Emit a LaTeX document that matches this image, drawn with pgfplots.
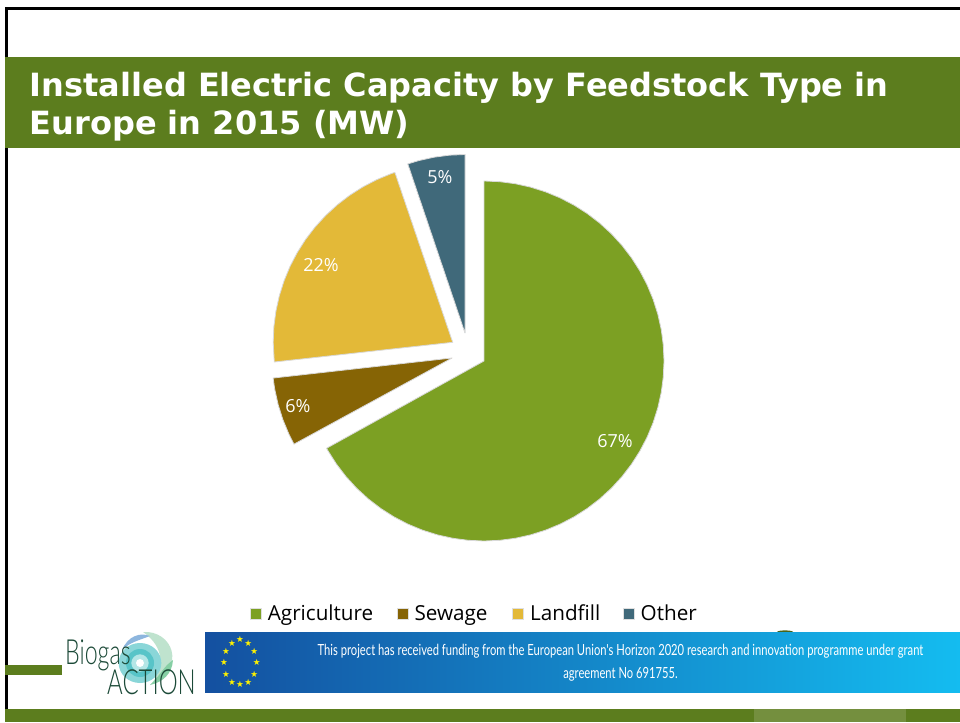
\documentclass[border=0pt]{standalone}
\usepackage{fontspec}
\usepackage{pgfplots}
\pgfplotsset{compat=1.18}
\usetikzlibrary{plotmarks}
\setmainfont{Open Sans}
\newfontfamily\titlefont{DejaVu Sans}
\newfontfamily\logofont{Lato Light}
\newfontfamily\bannerfont{Lato}
\definecolor{bandgreen}{HTML}{5C7D1E}
\definecolor{bandlight}{HTML}{748F3E}
\definecolor{agri}{HTML}{7CA023}
\definecolor{sewage}{HTML}{866405}
\definecolor{landfill}{HTML}{E3B938}
\definecolor{other}{HTML}{40697A}
\definecolor{euleft}{HTML}{1450A0}
\definecolor{euright}{HTML}{14BCF0}
\definecolor{logogreen}{HTML}{1C4A38}
\definecolor{wing}{HTML}{BFE3CE}
\definecolor{wingdark}{HTML}{86CFA4}
\definecolor{arcblue}{HTML}{8DB6DE}
\definecolor{ring}{HTML}{58C4C8}
\definecolor{ringpale}{HTML}{B4E6E6}
\begin{document}
\begin{tikzpicture}
\begin{axis}[
    scale only axis,
    width=720pt,
    height=541.5pt,
    xmin=0, xmax=960,
    ymin=0, ymax=722,
    axis lines=none,
    legend columns=-1,
    legend style={at={(axis cs:474.7,107)}, anchor=center, draw=none, fill=none,
        font=\fontsize{15.5}{18}\selectfont,
        nodes={text height=11.5pt, text depth=3.5pt},
        /tikz/column 2/.style={column sep=15.5pt},
        /tikz/column 4/.style={column sep=16.5pt},
        /tikz/column 6/.style={column sep=14.75pt}},
    legend image code/.code={\path[draw=none, fill=none] (0pt,0pt) -- (11.2pt,0pt);
        \path[#1, draw=gray!25, line width=0.5pt] (0pt,-3.6pt) rectangle (8.25pt,4.65pt);},
    pie/.style={draw=gray!30, line width=0.6pt, line join=round, forget plot},
]
% page furniture
\fill[white] (axis cs:0,0) rectangle (axis cs:960,722);
\fill[black] (axis cs:5,0) rectangle (axis cs:8,714);
\fill[black] (axis cs:5,712) rectangle (axis cs:960,715);
\fill[bandgreen] (axis cs:5,574) rectangle (axis cs:960,665);
\fill[bandgreen] (axis cs:5,47) rectangle (axis cs:62,57);
\fill[bandgreen] (axis cs:5,0) rectangle (axis cs:960,13);
\fill[bandlight] (axis cs:754,0) rectangle (axis cs:906,13);
\fill[bandgreen!80!black] (axis cs:785,90) ellipse (6pt and 1.2pt);
\shade[left color=euleft, right color=euright] (axis cs:205,30) rectangle (axis cs:960,90);

% Agriculture 66.9 %
\addplot[pie, fill=agri, shift={(axis direction cs:484,361)}, data cs=polar] coordinates {
 (0,0) (90,180) (85,180) (80,180) (75,180) (70,180) (65,180) (60,180) (55,180) (50,180)
 (45,180) (40,180) (35,180) (30,180) (25,180) (20,180) (15,180) (10,180) (5,180) (0,180)
 (-5,180) (-10,180) (-15,180) (-20,180) (-25,180) (-30,180) (-35,180) (-40,180) (-45,180)
 (-50,180) (-55,180) (-60,180) (-65,180) (-70,180) (-75,180) (-80,180) (-85,180) (-90,180)
 (-95,180) (-100,180) (-105,180) (-110,180) (-115,180) (-120,180) (-125,180) (-130,180)
 (-135,180) (-140,180) (-145,180) (-150,180) (-151,180)} --cycle;
% Sewage 6.3 %
\addplot[pie, fill=sewage, shift={(axis direction cs:452,364)}, data cs=polar] coordinates {
 (0,0) (208.6,180) (205,180) (200,180) (195,180) (190,180) (186.4,180)} --cycle;
% Landfill 21.6 %
\addplot[pie, fill=landfill, shift={(axis direction cs:452.7,379.7)}, data cs=polar] coordinates {
 (0,0) (186.3,179.5) (180,179.5) (175,179.5) (170,179.5) (165,179.5) (160,179.5) (155,179.5)
 (150,179.5) (145,179.5) (140,179.5) (135,179.5) (130,179.5) (125,179.5) (120,179.5)
 (115,179.5) (110,179.5) (108.8,179.5)} --cycle;
% Other 5.2 %
\addplot[pie, fill=other, shift={(axis direction cs:465,389)}, data cs=polar] coordinates {
 (0,0) (108.7,178.5) (105,178.5) (100,178.5) (95,178.5) (90,178.5)} --cycle;

\addlegendimage{fill=agri}\addlegendentry{Agriculture}
\addlegendimage{fill=sewage}\addlegendentry{Sewage}
\addlegendimage{fill=landfill}\addlegendentry{Landfill}
\addlegendimage{fill=other}\addlegendentry{Other}

% data labels
\node[white, font=\fontsize{13.5}{16}\selectfont] at (axis cs:615,281) {67\%};
\node[white, font=\fontsize{13.5}{16}\selectfont] at (axis cs:298,316) {6\%};
\node[white, font=\fontsize{13.5}{16}\selectfont] at (axis cs:321,457) {22\%};
\node[white, font=\fontsize{13.5}{16}\selectfont] at (axis cs:440,545) {5\%};

% EU stars
\addplot[only marks, mark=text, text mark={\textcolor{yellow}{\titlefont\fontsize{6.5}{7}\selectfont ★}}, forget plot]
 coordinates {(240,82.7) (248.3,78.7) (254.3,71) (256.7,59.3) (254.3,48) (248.3,39.7)
 (240,37.7) (232,39.7) (226,48) (224,59.3) (226,71) (232,78.7)};

% logo swirl
\fill[wing] (axis cs:143,90) .. controls (axis cs:172,92) and (axis cs:188,55) .. (axis cs:150,37)
    .. controls (axis cs:165,52) and (axis cs:165,75) .. cycle;
\fill[wingdark] (axis cs:173,62) .. controls (axis cs:172,48) and (axis cs:163,40) .. (axis cs:150,37)
    .. controls (axis cs:160,46) and (axis cs:163,55) .. cycle;
\fill[arcblue] (axis cs:122,72) .. controls (axis cs:128,86) and (axis cs:140,90) .. (axis cs:150,86)
    .. controls (axis cs:140,82) and (axis cs:130,80) .. cycle;
\fill[ring!70] (axis cs:140,59) ellipse (16pt and 15pt);
\fill[ring] (axis cs:140,59) circle (10.5pt);
\fill[ringpale] (axis cs:140,59) circle (6.5pt);
\fill[white] (axis cs:140,59) circle (3pt);

% text
\node[anchor=base west, text=white, inner sep=0pt, font=\titlefont\bfseries\fontsize{24}{28}\selectfont]
    at (axis cs:29.5,625) {Installed Electric Capacity by Feedstock Type in};
\node[anchor=base west, text=white, inner sep=0pt, font=\titlefont\bfseries\fontsize{24}{28}\selectfont]
    at (axis cs:29.5,587.5) {Europe in 2015 (MW)};
\node[anchor=base west, text=logogreen, inner sep=0pt, xscale=0.67, font=\logofont\fontsize{26}{28}\selectfont]
    at (axis cs:65,58) {Biogas};
\node[anchor=base west, text=logogreen, inner sep=0pt, xscale=0.69, font=\logofont\fontsize{26}{30}\selectfont]
    at (axis cs:107,28) {ACTION};
\node[text=white, inner sep=0pt, xscale=0.73, font=\bannerfont\fontsize{11.5}{14}\selectfont]
    at (axis cs:620.5,71) {This project has received funding from the European Union's Horizon 2020 research and innovation programme under grant};
\node[text=white, inner sep=0pt, xscale=0.73, font=\bannerfont\fontsize{11.5}{14}\selectfont]
    at (axis cs:620.5,48) {agreement No 691755.};
\end{axis}
\end{tikzpicture}
\end{document}
